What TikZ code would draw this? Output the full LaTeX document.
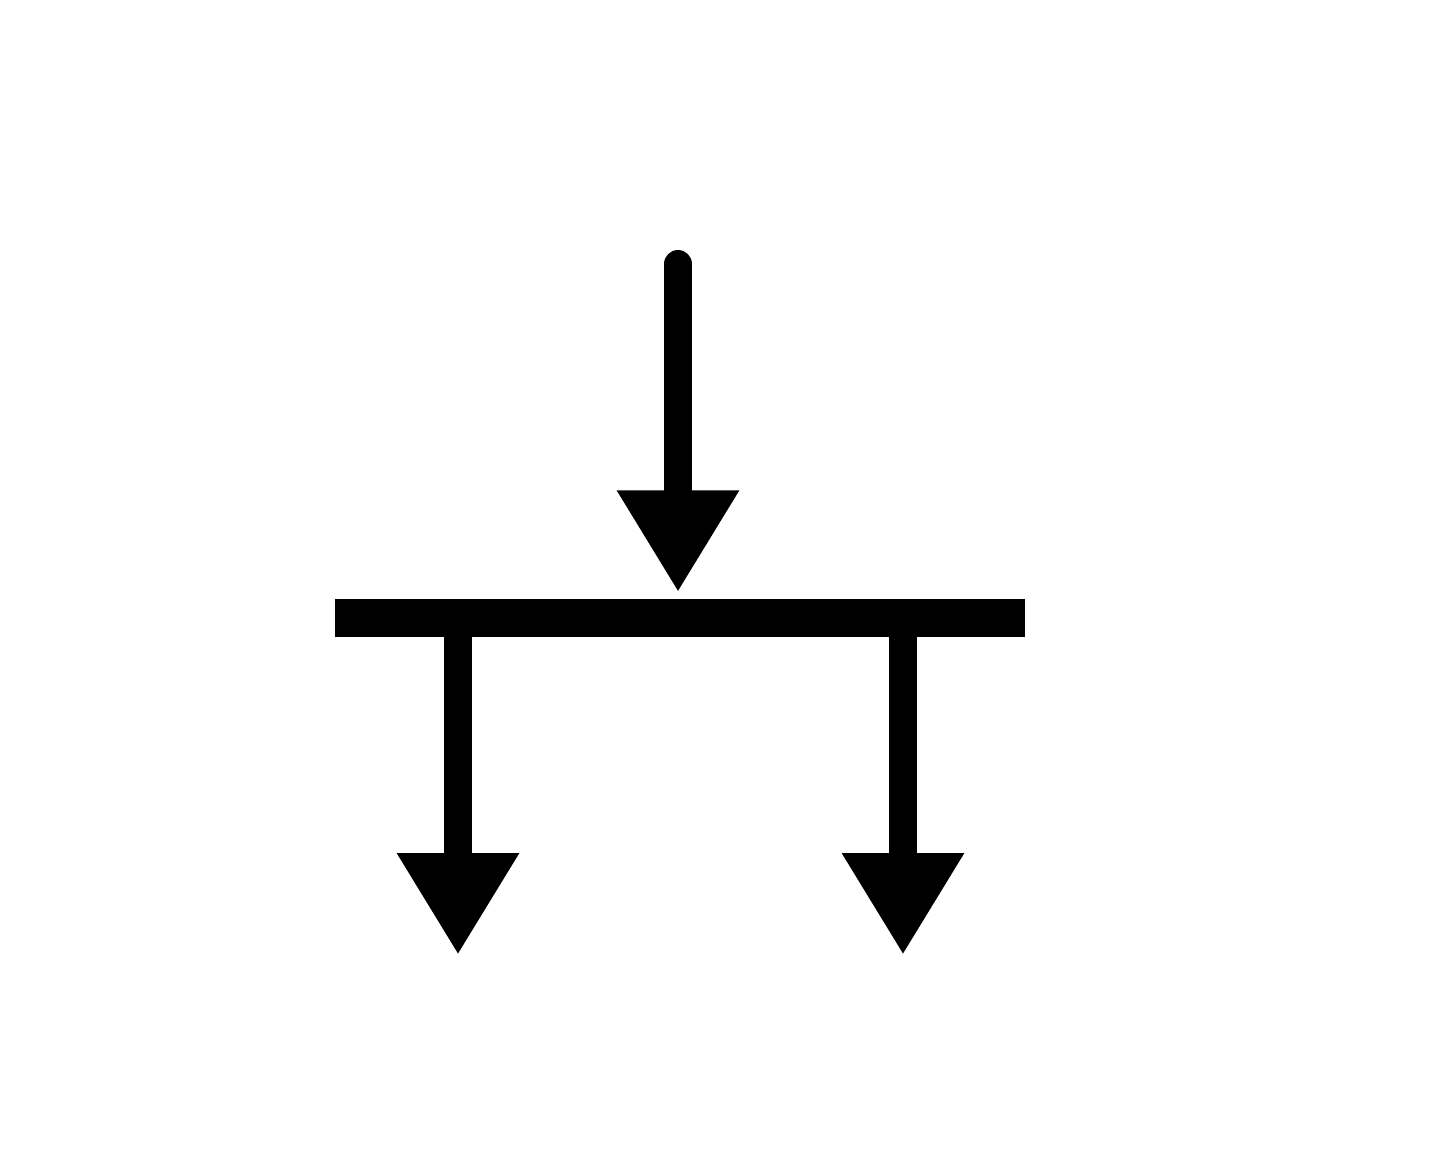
\documentclass[tikz,border=0pt]{standalone}
\usepackage{tikz}
\usetikzlibrary{arrows.meta, positioning}

\tikzset{
    flow/.style={line width=0.28cm, -{Triangle[length=1.02cm, width=1.15cm]}},
    bar/.style={fill=black, inner sep=0pt, minimum width=6.9cm, minimum height=0.38cm}
}

\begin{document}
\begin{tikzpicture}[scale=1]
    \useasboundingbox (0,0) rectangle (14.4,-11.65);

    % Splitting bar
    \node[bar] (split) at (6.80,-6.18) {};

    % End points
    \coordinate (in) at (6.78,-2.64);
    \coordinate (outL) at (4.58,-9.55);
    \coordinate (outR) at (9.03,-9.55);

    % Incoming flow
    \draw[flow, line cap=round] (in) -- ([yshift=0.06cm]split.north -| in);

    % Outgoing flows
    \draw[flow] (split.center -| outL) -- (outL);
    \draw[flow] (split.center -| outR) -- (outR);
\end{tikzpicture}
\end{document}
